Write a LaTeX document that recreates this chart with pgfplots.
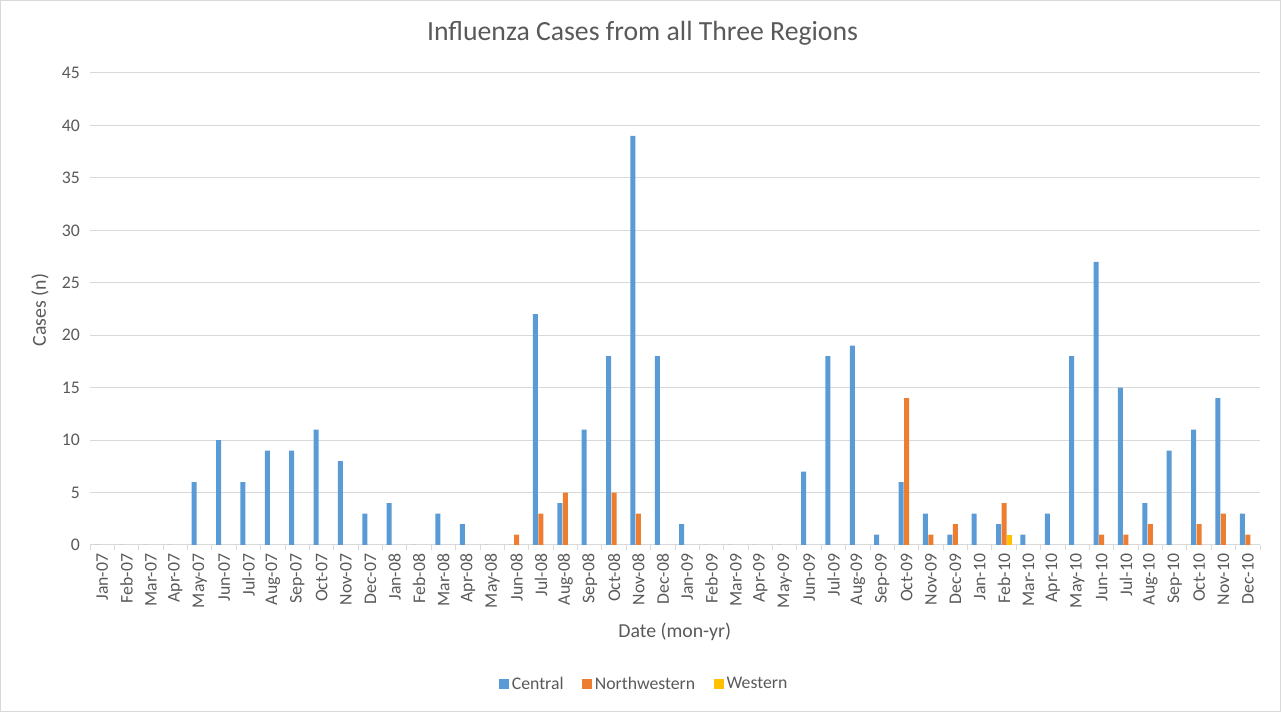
\documentclass[border=0pt]{standalone}
\usepackage{fontspec}
\setmainfont{Carlito}
\usepackage{pgfplots}
\pgfplotsset{compat=1.18}
\definecolor{cCentral}{HTML}{5B9BD5}
\definecolor{cNW}{HTML}{ED7D31}
\definecolor{cW}{HTML}{FFC000}
\definecolor{txt}{HTML}{595959}
\definecolor{gridc}{HTML}{D9D9D9}
\begin{document}
\begin{tikzpicture}
\draw[gridc, line width=0.75pt] (0.375pt,0.375pt) rectangle (960.375pt,533.625pt);
\useasboundingbox (0,0) rectangle (960.75pt,534pt);
\begin{axis}[
  at={(67.5pt,125.25pt)}, anchor=south west,
  scale only axis, width=877.5pt, height=354pt,
  ybar=0.4pt, bar width=3.75pt,
  xmin=-0.5, xmax=47.5, ymin=0, ymax=45,
  ytick={0,5,...,45},
  xtick={0,...,47},
  xticklabels={Jan-07,Feb-07,Mar-07,Apr-07,May-07,Jun-07,Jul-07,Aug-07,Sep-07,Oct-07,Nov-07,Dec-07,
    Jan-08,Feb-08,Mar-08,Apr-08,May-08,Jun-08,Jul-08,Aug-08,Sep-08,Oct-08,Nov-08,Dec-08,
    Jan-09,Feb-09,Mar-09,Apr-09,May-09,Jun-09,Jul-09,Aug-09,Sep-09,Oct-09,Nov-09,Dec-09,
    Jan-10,Feb-10,Mar-10,Apr-10,May-10,Jun-10,Jul-10,Aug-10,Sep-10,Oct-10,Nov-10,Dec-10},
  minor xtick={-0.5,0.5,...,47.5},
  major tick length=0pt, minor tick length=3.75pt,
  tick align=outside,
  minor tick style={draw=gridc, line width=0.75pt},
  ytick style={draw=none},
  axis x line*=bottom, axis y line*=left,
  x axis line style={draw=gridc, line width=0.75pt},
  y axis line style={draw=none},
  ymajorgrids, major grid style={draw=gridc, line width=0.75pt},
  /pgf/number format/assume math mode=true,
  tick label style={font=\fontsize{13.3pt}{15pt}\selectfont, text=txt},
  xticklabel style={rotate=90, anchor=east, yshift=0pt, xshift=-3pt},
  yticklabel style={xshift=-4pt},
  legend columns=3,
  legend style={at={(0.474,-0.2945)}, anchor=center, draw=none, fill=none,
    font=\fontsize{13.3pt}{15pt}\selectfont, text=txt,
    /tikz/every even column/.append style={column sep=12pt}},
  legend image code/.code={\fill[#1] (0pt,-3.75pt) rectangle (7.5pt,3.75pt);},
]
\addplot[fill=cCentral, draw=none] coordinates {
(0,0)(1,0)(2,0)(3,0)(4,6)(5,10)(6,6)(7,9)(8,9)(9,11)(10,8)(11,3)
(12,4)(13,0)(14,3)(15,2)(16,0)(17,0)(18,22)(19,4)(20,11)(21,18)(22,39)(23,18)
(24,2)(25,0)(26,0)(27,0)(28,0)(29,7)(30,18)(31,19)(32,1)(33,6)(34,3)(35,1)
(36,3)(37,2)(38,1)(39,3)(40,18)(41,27)(42,15)(43,4)(44,9)(45,11)(46,14)(47,3)};
\addplot[fill=cNW, draw=none] coordinates {
(17,1)(18,3)(19,5)(21,5)(22,3)(33,14)(34,1)(35,2)(37,4)(41,1)(42,1)(43,2)(45,2)(46,3)(47,1)};
\addplot[fill=cW, draw=none] coordinates {(37,1)};
\legend{Central,Northwestern,Western}
\end{axis}
\node[text=txt, font=\fontsize{20.8pt}{24pt}\selectfont] at (481.9pt,509.25pt) {Influenza Cases from all Three Regions};
\node[text=txt, font=\fontsize{14.85pt}{17pt}\selectfont, rotate=90] at (30pt,301.5pt) {Cases (n)};
\node[text=txt, font=\fontsize{14.85pt}{17pt}\selectfont] at (506pt,60pt) {Date (mon-yr)};
\end{tikzpicture}
\end{document}
